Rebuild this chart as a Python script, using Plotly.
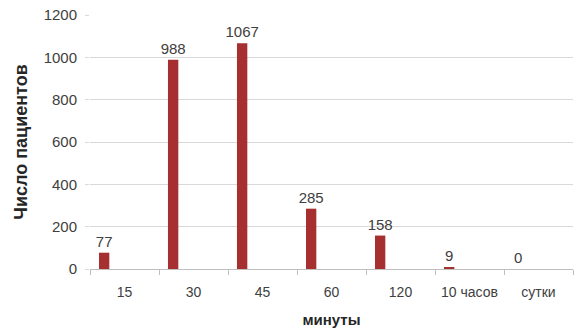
import plotly.graph_objects as go

categories = ["15", "30", "45", "60", "120", "10 часов", "сутки"]
patients = [77, 988, 1067, 285, 158, 9, 0]
y_ticks = [0, 200, 400, 600, 800, 1000, 1200]

bar_color = "#A5302F"
text_color = "#404040"
font_family = "Liberation Sans, Arial, sans-serif"

fig = go.Figure(
    go.Bar(
        x=categories,
        y=patients,
        marker=dict(color=bar_color, line=dict(width=0)),
        width=0.15,
        offset=-0.37,
        text=[str(v) for v in patients],
        textposition="outside",
        constraintext="none",
        textfont=dict(size=15, color=text_color, family=font_family),
        cliponaxis=False,
    )
)

fig.update_layout(
    width=577,
    height=332,
    margin=dict(l=90, r=4, t=15, b=63),
    paper_bgcolor="white",
    plot_bgcolor="white",
    showlegend=False,
    font=dict(family=font_family, color=text_color, size=15),
    uniformtext=dict(minsize=15, mode="show"),
    xaxis=dict(
        type="category",
        automargin=False,
        tickangle=0,
        showgrid=False,
        showline=True,
        linecolor="#BFBFBF",
        linewidth=1,
        ticks="outside",
        tickson="boundaries",
        ticklen=5,
        tickcolor="#BFBFBF",
        ticklabelstandoff=10,
        tickfont=dict(size=14, color=text_color),
        title=dict(text="<b>минуты</b>", font=dict(size=15, color="#262626"), standoff=15),
    ),
    yaxis=dict(
        automargin=False,
        range=[0, 1200],
        tickvals=y_ticks,
        showgrid=True,
        gridcolor="#D9D9D9",
        gridwidth=1,
        zeroline=False,
        showline=False,
        ticks="outside",
        ticklen=4,
        tickcolor="#D9D9D9",
        ticklabelstandoff=5,
        tickfont=dict(size=15, color=text_color),
        title=dict(text="<b>Число пациентов</b>", font=dict(size=18, color="#262626"), standoff=11),
    ),
)

fig.write_html("out.html")
